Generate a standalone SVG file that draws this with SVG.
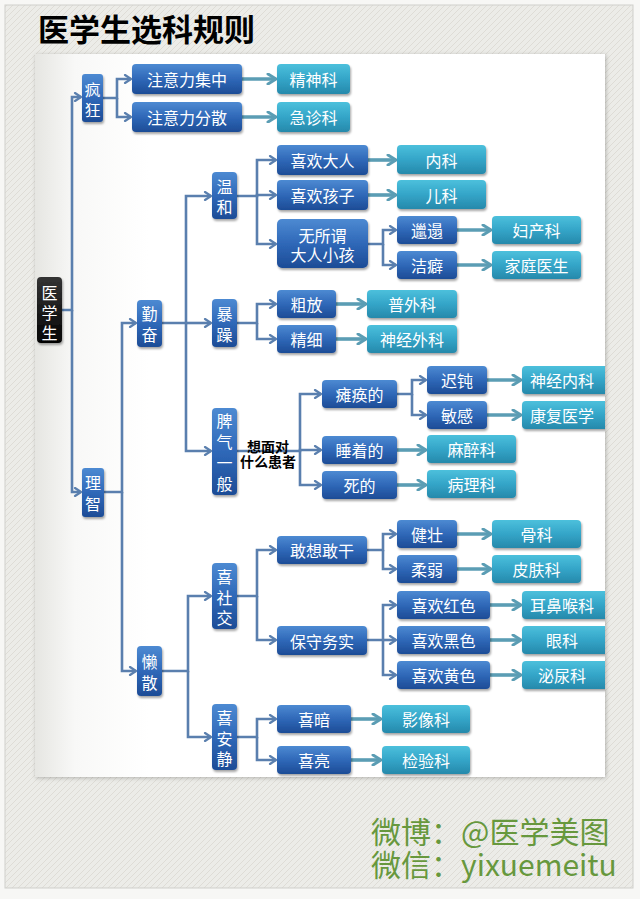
<svg xmlns="http://www.w3.org/2000/svg" width="640" height="899" viewBox="0 0 640 899">
<defs>
<style>
.t{font-family:"Noto Sans CJK SC","Noto Sans",sans-serif;font-size:16px;fill:#fff;text-anchor:middle;dominant-baseline:central}
.b{fill:url(#gb);filter:url(#sh)}
.c{fill:url(#gc);filter:url(#sh)}
.k{fill:url(#gk);filter:url(#sh)}
.lb{fill:none;stroke:#5a7fae;stroke-width:2.6;marker-end:url(#ab)}
.lt{fill:none;stroke:#5b9db4;stroke-width:3.6;marker-end:url(#at)}
.q{font-family:"Noto Sans CJK SC",sans-serif;font-size:14px;font-weight:bold;fill:#000;text-anchor:middle}
.w{font-family:"Noto Sans CJK SC","Noto Sans",sans-serif;font-size:30px;fill:#67983d}
</style>
<pattern id="tex" width="6" height="6" patternUnits="userSpaceOnUse">
<rect width="6" height="6" fill="#ecece8"/>
<path d="M0,6 L6,0 M-1,1 L1,-1 M5,7 L7,5" stroke="#dedcd6" stroke-width="1"/>
</pattern>
<linearGradient id="gp" x1="0" y1="0" x2="1" y2="0">
<stop offset="0" stop-color="#e6e6e2"/><stop offset="0.07" stop-color="#f8f8f7"/><stop offset="0.2" stop-color="#fff"/><stop offset="1" stop-color="#fff"/>
</linearGradient>
<linearGradient id="gb" x1="0" y1="0" x2="0" y2="1">
<stop offset="0" stop-color="#4d8ad2"/><stop offset="0.5" stop-color="#2f68b8"/><stop offset="1" stop-color="#1d4c96"/>
</linearGradient>
<linearGradient id="gc" x1="0" y1="0" x2="0" y2="1">
<stop offset="0" stop-color="#4cc0dc"/><stop offset="0.5" stop-color="#34a5c8"/><stop offset="1" stop-color="#2689ab"/>
</linearGradient>
<linearGradient id="gk" x1="0" y1="0" x2="0" y2="1">
<stop offset="0" stop-color="#333"/><stop offset="1" stop-color="#050505"/>
</linearGradient>
<filter id="sh" x="-20%" y="-20%" width="140%" height="150%">
<feDropShadow dx="1" dy="2" stdDeviation="1.3" flood-color="#000" flood-opacity="0.35"/>
</filter>
<filter id="ps" x="-5%" y="-5%" width="110%" height="110%">
<feDropShadow dx="1" dy="1" stdDeviation="2" flood-color="#000" flood-opacity="0.25"/>
</filter>
<clipPath id="cp"><rect x="35" y="54" width="570" height="723"/></clipPath>
<marker id="ab" viewBox="0 0 10 10" refX="9" refY="5" markerWidth="10" markerHeight="10" markerUnits="userSpaceOnUse" orient="auto">
<path d="M3,1 L9,5 L3,9" fill="none" stroke="#5a7fae" stroke-width="2.2" stroke-linecap="round" stroke-linejoin="round"/>
</marker>
<marker id="at" viewBox="0 0 12 12" refX="11" refY="6" markerWidth="12" markerHeight="12" markerUnits="userSpaceOnUse" orient="auto">
<path d="M3,1 L11,6 L3,11" fill="none" stroke="#5b9db4" stroke-width="3" stroke-linecap="round" stroke-linejoin="round"/>
</marker>
</defs>

<rect x="0" y="0" width="640" height="899" fill="#f7f7f5"/>
<rect x="5" y="5" width="628" height="883" fill="url(#tex)" stroke="#cfcfcb" stroke-width="1"/>
<text x="38" y="41" font-family="'Noto Sans CJK SC',sans-serif" font-size="31" font-weight="bold" fill="#000">医学生选科规则</text>
<rect x="35" y="54" width="570" height="723" fill="url(#gp)" filter="url(#ps)"/>

<g id="connectors">
<path class="lb" d="M62,310 H72 V97 H81"/>
<path class="lb" d="M72,310 V492 H81"/>
<path class="lb" d="M103,98 H117 V79 H131"/>
<path class="lb" d="M117,98 V117 H131"/>
<path class="lt" d="M242,79 H276"/>
<path class="lt" d="M242,117 H276"/>
<path class="lb" d="M104,492 H122 V323 H136"/>
<path class="lb" d="M122,492 V671 H136"/>
<path class="lb" d="M162,323 H186 V196 H211"/>
<path class="lb" d="M186,323 H211"/>
<path class="lb" d="M186,323 V451 H211"/>
<path class="lb" d="M237,196 H257 V160 H276"/>
<path class="lb" d="M257,196 V195 H276"/>
<path class="lb" d="M257,196 V244 H276"/>
<path class="lt" d="M368,160 H396"/>
<path class="lt" d="M368,195 H396"/>
<path class="lb" d="M368,244 H383 V230 H396"/>
<path class="lb" d="M383,244 V265 H396"/>
<path class="lt" d="M457,230 H491"/>
<path class="lt" d="M457,265 H491"/>
<path class="lb" d="M237,323 H257 V304 H276"/>
<path class="lb" d="M257,323 V339 H276"/>
<path class="lt" d="M336,304 H366"/>
<path class="lt" d="M336,339 H366"/>
<path class="lb" d="M237,451 H300 V394 H321"/>
<path class="lb" d="M300,451 V450 H321"/>
<path class="lb" d="M300,451 V485 H321"/>
<path class="lb" d="M397,394 H412 V380 H426"/>
<path class="lb" d="M412,394 V415 H426"/>
<path class="lt" d="M487,380 H521"/>
<path class="lt" d="M487,415 H521"/>
<path class="lt" d="M397,450 H426"/>
<path class="lt" d="M397,485 H426"/>
<path class="lb" d="M162,671 H188 V596 H211"/>
<path class="lb" d="M188,671 V737 H211"/>
<path class="lb" d="M237,596 H257 V550 H276"/>
<path class="lb" d="M257,596 V640 H276"/>
<path class="lb" d="M367,550 H383 V534 H396"/>
<path class="lb" d="M383,550 V569 H396"/>
<path class="lt" d="M457,534 H491"/>
<path class="lt" d="M457,569 H491"/>
<path class="lb" d="M367,640 H383 V605 H396"/>
<path class="lb" d="M383,640 H396"/>
<path class="lb" d="M383,640 V675 H396"/>
<path class="lt" d="M490,605 H521"/>
<path class="lt" d="M490,640 H521"/>
<path class="lt" d="M490,675 H521"/>
<path class="lb" d="M237,737 H257 V719 H276"/>
<path class="lb" d="M257,737 V760 H276"/>
<path class="lt" d="M351,719 H381"/>
<path class="lt" d="M351,760 H381"/>
<text class="q"><tspan x="268" y="452">想面对</tspan><tspan x="268" y="467">什么患者</tspan></text>
</g>

<g id="n-yixuesheng"><rect class="k" x="37" y="277" width="25" height="66" rx="4"/><text class="t"><tspan x="49.5" y="292">医</tspan><tspan x="49.5" y="312">学</tspan><tspan x="49.5" y="332">生</tspan></text></g>
<g id="n-fengkuang"><rect class="b" x="82" y="74" width="21" height="48" rx="3"/><text class="t"><tspan x="92.5" y="89">疯</tspan><tspan x="92.5" y="109">狂</tspan></text></g>
<g id="n-lizhi"><rect class="b" x="82" y="468" width="22" height="49" rx="3"/><text class="t"><tspan x="93" y="482">理</tspan><tspan x="93" y="503">智</tspan></text></g>
<g id="n-zhuyijizhong"><rect class="b" x="132" y="64" width="110" height="30" rx="4"/><text class="t" x="187" y="79">注意力集中</text></g>
<g id="n-zhuyifensan"><rect class="b" x="132" y="102" width="110" height="30" rx="4"/><text class="t" x="187" y="117">注意力分散</text></g>
<g id="n-jingshenke"><rect class="c" x="277" y="64" width="73" height="30" rx="4"/><text class="t" x="313.5" y="79">精神科</text></g>
<g id="n-jizhenke"><rect class="c" x="277" y="102" width="73" height="30" rx="4"/><text class="t" x="313.5" y="117">急诊科</text></g>

<g id="n-qinfen"><rect class="b" x="137" y="300" width="25" height="47" rx="4"/><text class="t"><tspan x="149.5" y="313">勤</tspan><tspan x="149.5" y="334">奋</tspan></text></g>
<g id="n-wenhe"><rect class="b" x="212" y="172" width="25" height="47" rx="4"/><text class="t"><tspan x="224.5" y="186">温</tspan><tspan x="224.5" y="206">和</tspan></text></g>
<g id="n-baozao"><rect class="b" x="212" y="299" width="25" height="48" rx="4"/><text class="t"><tspan x="224.5" y="313">暴</tspan><tspan x="224.5" y="334">躁</tspan></text></g>
<g id="n-piqi"><rect class="b" x="212" y="408" width="25" height="87" rx="4"/><text class="t"><tspan x="224.5" y="420">脾</tspan><tspan x="224.5" y="441">气</tspan><tspan x="224.5" y="462">一</tspan><tspan x="224.5" y="483">般</tspan></text></g>

<g id="n-xihuandaren"><rect class="b" x="277" y="145" width="91" height="30" rx="4"/><text class="t" x="322.5" y="160">喜欢大人</text></g>
<g id="n-xihuanhaizi"><rect class="b" x="277" y="180" width="91" height="30" rx="4"/><text class="t" x="322.5" y="195">喜欢孩子</text></g>
<g id="n-wusuowei"><rect class="b" x="277" y="219" width="91" height="49" rx="5"/><text class="t"><tspan x="322.5" y="235">无所谓</tspan><tspan x="322.5" y="254">大人小孩</tspan></text></g>
<g id="n-neike"><rect class="c" x="397" y="145" width="89" height="29" rx="4"/><text class="t" x="441.5" y="159.5">内科</text></g>
<g id="n-erke"><rect class="c" x="397" y="180" width="89" height="29" rx="4"/><text class="t" x="441.5" y="194.5">儿科</text></g>
<g id="n-lata"><rect class="b" x="397" y="216" width="60" height="28" rx="4"/><text class="t" x="427" y="230">邋遢</text></g>
<g id="n-jiepi"><rect class="b" x="397" y="251" width="60" height="28" rx="4"/><text class="t" x="427" y="265">洁癖</text></g>
<g id="n-fuchanke"><rect class="c" x="492" y="216" width="89" height="28" rx="4"/><text class="t" x="536.5" y="230">妇产科</text></g>
<g id="n-jiatingyisheng"><rect class="c" x="492" y="251" width="89" height="28" rx="4"/><text class="t" x="536.5" y="265">家庭医生</text></g>

<g id="n-cufang"><rect class="b" x="277" y="290" width="59" height="28" rx="4"/><text class="t" x="306.5" y="304">粗放</text></g>
<g id="n-jingxi"><rect class="b" x="277" y="325" width="59" height="28" rx="4"/><text class="t" x="306.5" y="339">精细</text></g>
<g id="n-puwaike"><rect class="c" x="367" y="290" width="90" height="28" rx="4"/><text class="t" x="412" y="304">普外科</text></g>
<g id="n-shenjingwaike"><rect class="c" x="367" y="325" width="90" height="28" rx="4"/><text class="t" x="412" y="339">神经外科</text></g>

<g id="n-tanhuande"><rect class="b" x="322" y="380" width="75" height="28" rx="4"/><text class="t" x="359.5" y="394">瘫痪的</text></g>
<g id="n-shuizhaode"><rect class="b" x="322" y="436" width="75" height="28" rx="4"/><text class="t" x="359.5" y="450">睡着的</text></g>
<g id="n-side"><rect class="b" x="322" y="471" width="75" height="28" rx="4"/><text class="t" x="359.5" y="485">死的</text></g>
<g id="n-chidun"><rect class="b" x="427" y="366" width="60" height="28" rx="4"/><text class="t" x="457" y="380">迟钝</text></g>
<g id="n-mingan"><rect class="b" x="427" y="401" width="60" height="28" rx="4"/><text class="t" x="457" y="415">敏感</text></g>
<g id="n-shenjingneike" clip-path="url(#cp)"><rect class="c" x="522" y="366" width="92" height="28" rx="4"/><text class="t" x="562" y="380">神经内科</text></g>
<g id="n-kangfuyixue" clip-path="url(#cp)"><rect class="c" x="522" y="401" width="92" height="28" rx="4"/><text class="t" x="562" y="415">康复医学</text></g>
<g id="n-mazuike"><rect class="c" x="427" y="435" width="89" height="28" rx="4"/><text class="t" x="471.5" y="449">麻醉科</text></g>
<g id="n-binglike"><rect class="c" x="427" y="470" width="89" height="28" rx="4"/><text class="t" x="471.5" y="484">病理科</text></g>

<g id="n-lansan"><rect class="b" x="137" y="646" width="25" height="50" rx="4"/><text class="t"><tspan x="149.5" y="661">懒</tspan><tspan x="149.5" y="682">散</tspan></text></g>
<g id="n-xishejiao"><rect class="b" x="212" y="563" width="25" height="66" rx="4"/><text class="t"><tspan x="224.5" y="576">喜</tspan><tspan x="224.5" y="597">社</tspan><tspan x="224.5" y="617">交</tspan></text></g>
<g id="n-xianjing"><rect class="b" x="212" y="704" width="25" height="66" rx="4"/><text class="t"><tspan x="224.5" y="717">喜</tspan><tspan x="224.5" y="738">安</tspan><tspan x="224.5" y="758">静</tspan></text></g>
<g id="n-ganxianggangan"><rect class="b" x="277" y="536" width="90" height="28" rx="4"/><text class="t" x="322" y="550">敢想敢干</text></g>
<g id="n-baoshouwushi"><rect class="b" x="277" y="626" width="90" height="29" rx="4"/><text class="t" x="322" y="640.5">保守务实</text></g>
<g id="n-jianzhuang"><rect class="b" x="397" y="520" width="60" height="28" rx="4"/><text class="t" x="427" y="534">健壮</text></g>
<g id="n-rouruo"><rect class="b" x="397" y="555" width="60" height="28" rx="4"/><text class="t" x="427" y="569">柔弱</text></g>
<g id="n-guke"><rect class="c" x="492" y="520" width="89" height="28" rx="4"/><text class="t" x="536.5" y="534">骨科</text></g>
<g id="n-pifuke"><rect class="c" x="492" y="555" width="89" height="28" rx="4"/><text class="t" x="536.5" y="569">皮肤科</text></g>
<g id="n-hong"><rect class="b" x="397" y="591" width="93" height="28" rx="4"/><text class="t" x="443.5" y="605">喜欢红色</text></g>
<g id="n-hei"><rect class="b" x="397" y="626" width="93" height="28" rx="4"/><text class="t" x="443.5" y="640">喜欢黑色</text></g>
<g id="n-huang"><rect class="b" x="397" y="661" width="93" height="28" rx="4"/><text class="t" x="443.5" y="675">喜欢黄色</text></g>
<g id="n-erbihouke" clip-path="url(#cp)"><rect class="c" x="522" y="591" width="92" height="28" rx="4"/><text class="t" x="562" y="605">耳鼻喉科</text></g>
<g id="n-yanke" clip-path="url(#cp)"><rect class="c" x="522" y="626" width="92" height="28" rx="4"/><text class="t" x="562" y="640">眼科</text></g>
<g id="n-miniaoke" clip-path="url(#cp)"><rect class="c" x="522" y="661" width="92" height="28" rx="4"/><text class="t" x="562" y="675">泌尿科</text></g>
<g id="n-xian"><rect class="b" x="277" y="705" width="74" height="28" rx="4"/><text class="t" x="314" y="719">喜暗</text></g>
<g id="n-xiliang"><rect class="b" x="277" y="746" width="74" height="28" rx="4"/><text class="t" x="314" y="760">喜亮</text></g>
<g id="n-yingxiangke"><rect class="c" x="382" y="705" width="88" height="28" rx="4"/><text class="t" x="426" y="719">影像科</text></g>
<g id="n-jianyanke"><rect class="c" x="382" y="746" width="88" height="28" rx="4"/><text class="t" x="426" y="760">检验科</text></g>

<g id="watermark">
<text class="w"><tspan x="371" y="843">微博：@医学美图</tspan><tspan x="371" y="876">微信：yixuemeitu</tspan></text>
</g>
</svg>
